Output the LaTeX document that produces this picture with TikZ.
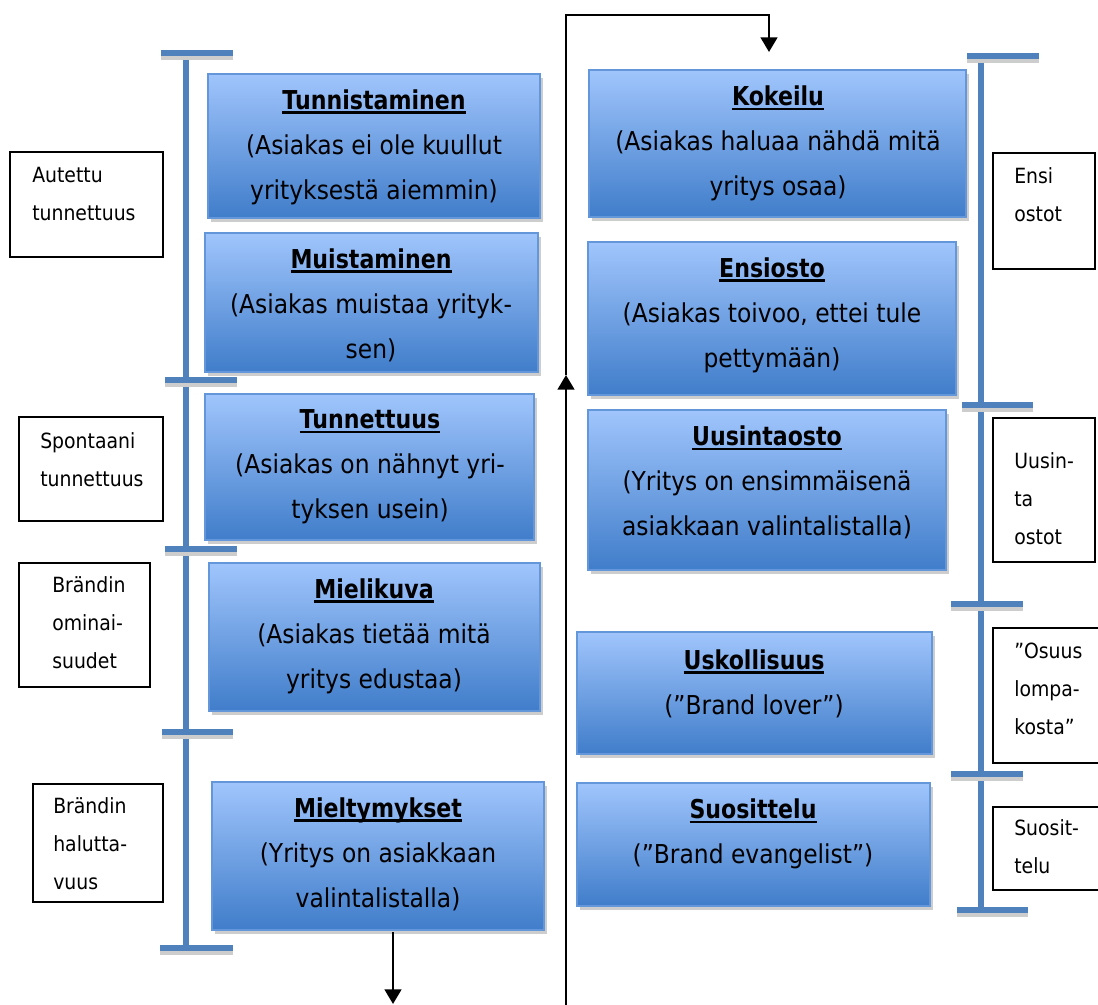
\documentclass[tikz,border=0pt]{standalone}
\usepackage{fontspec}
\setmainfont{DejaVu Sans}
\newfontfamily\stagefont{DejaVu Sans}[FakeStretch=0.9, BoldFeatures={FakeStretch=0.85}]
\newfontfamily\labelfont{DejaVu Sans}[FakeStretch=0.9]
\usetikzlibrary{arrows.meta,shadows,calc}

\definecolor{barblue}{RGB}{79,129,189}
\definecolor{boxtop}{RGB}{160,197,252}
\definecolor{boxbot}{RGB}{64,125,202}
\definecolor{boxedge}{RGB}{100,150,218}
\definecolor{shadowgray}{RGB}{205,205,205}

\tikzset{
  bluebox/.style={draw=boxedge, line width=0.9pt, top color=boxtop, bottom color=boxbot,
    drop shadow={shadow xshift=2.2pt, shadow yshift=-3pt, fill=shadowgray, opacity=1}},
  boxtext/.style={align=center, font=\stagefont\fontsize{19.5}{33.8}\selectfont, inner sep=0pt},
  sidebox/.style={draw=black, line width=1.3pt, fill=white},
  sidetext/.style={align=left, anchor=west, font=\labelfont\fontsize{15.7}{28.5}\selectfont, inner sep=0pt},
  scalebar/.style={draw=barblue, line width=4.6pt},
  tickshadow/.style={draw=shadowgray, line width=4.6pt},
  flowline/.style={draw=black, line width=1.9pt},
  flowarrow/.style={-{Triangle[length=11pt,width=12.5pt]}}
}

% underlined bold heading with a fixed rule position
\newcommand\ttl[1]{\setbox0=\hbox{\bfseries #1}\rlap{\rule[-3.4pt]{\wd0}{1.7pt}}\box0}

% stage box: name, x1, y1, x2, y2, text x, text y, text
\newcommand\stagebox[8]{%
  \node[bluebox, minimum width={(#4-#2)*0.75pt}, minimum height={(#5-#3)*0.75pt}]
    (#1) at ({(#2+#4)/2},{(#3+#5)/2}) {};
  \node[boxtext] (#1-text) at (#6,#7) {#8};}

% side label box: name, x1, y1, x2, y2, text x, text y, text
\newcommand\sidelabel[8]{%
  \node[sidebox, minimum width={(#4-#2)*0.75pt}, minimum height={(#5-#3)*0.75pt}]
    (#1) at ({(#2+#4)/2},{(#3+#5)/2}) {};
  \node[sidetext] (#1-text) at (#6,#7) {#8};}

% scale tick: name, x1, x2, y
\newcommand\scaletick[4]{%
  \coordinate (#1-a) at (#2,#4);
  \coordinate (#1-b) at (#3,#4);
  \draw[tickshadow] ($(#1-a)+(0,4)$) -- ($(#1-b)+(0,4)$);
  \draw[scalebar] (#1-a) -- (#1-b);}

\begin{document}
\begin{tikzpicture}[x=0.75pt, y=-0.75pt]
\useasboundingbox (0,0) rectangle (1098,1005);

% left scale
\coordinate (lbar-top) at (186,53);
\coordinate (lbar-bot) at (186,948);
\draw[scalebar] (lbar-top) -- (lbar-bot);
\scaletick{lt1}{161}{233}{53}
\scaletick{lt2}{165}{237}{380}
\scaletick{lt3}{165}{237}{549}
\scaletick{lt4}{162}{233}{732}
\scaletick{lt5}{160}{233}{948}

% right scale
\coordinate (rbar-top) at (981,56);
\coordinate (rbar-bot) at (981,910);
\draw[scalebar] (rbar-top) -- (rbar-bot);
\scaletick{rt1}{967}{1039}{56}
\scaletick{rt2}{962}{1033}{405}
\scaletick{rt3}{951}{1023}{604}
\scaletick{rt4}{951}{1023}{774}
\scaletick{rt5}{957}{1028}{910}

% stages, left column
\stagebox{s1}{208}{74}{540}{218}{374}{147}{\ttl{Tunnistaminen}\\(Asiakas ei ole kuullut\\yrityksestä aiemmin)}
\stagebox{s2}{205}{233}{538}{372}{371}{305}{\ttl{Muistaminen}\\(Asiakas muistaa yrityk-\\sen)}
\stagebox{s3}{205}{394}{534}{540}{370}{467}{\ttl{Tunnettuus}\\(Asiakas on nähnyt yri-\\tyksen usein)}
\stagebox{s4}{209}{563}{540}{711}{374}{636}{\ttl{Mielikuva}\\(Asiakas tietää mitä\\yritys edustaa)}
\stagebox{s5}{212}{782}{544}{930}{378}{854}{\ttl{Mieltymykset}\\(Yritys on asiakkaan\\valintalistalla)}

% stages, right column
\stagebox{s6}{589}{70}{966}{217}{778}{143.5}{\ttl{Kokeilu}\\(Asiakas haluaa nähdä mitä\\yritys osaa)}
\stagebox{s7}{588}{242}{956}{395}{772}{315}{\ttl{Ensiosto}\\(Asiakas toivoo, ettei tule\\pettymään)}
\stagebox{s8}{588}{410}{946}{570}{767}{482.5}{\ttl{Uusintaosto}\\(Yritys on ensimmäisenä\\asiakkaan valintalistalla)}
\stagebox{s9}{577}{632}{932}{754}{754}{683.5}{\ttl{Uskollisuus}\\(”Brand lover”)}
\stagebox{s10}{577}{783}{930}{906}{753}{834}{\ttl{Suosittelu}\\(”Brand evangelist”)}

% side labels, left
\sidelabel{a1}{10}{152}{163}{257}{32}{194}{Autettu\\tunnettuus}
\sidelabel{a2}{19}{417}{163}{521}{40}{459.5}{Spontaani\\tunnettuus}
\sidelabel{a3}{19}{563}{150}{687}{52}{622.5}{Brändin\\ominai-\\suudet}
\sidelabel{a4}{33}{784}{163}{902}{53}{844}{Brändin\\halutta-\\vuus}

% side labels, right
\sidelabel{b1}{993}{153}{1095}{269}{1014}{194.5}{Ensi\\ostot}
\sidelabel{b2}{993}{418}{1095}{562}{1014}{499}{Uusin-\\ta\\ostot}
\sidelabel{b3}{993}{628}{1102}{763}{1014}{689}{”Osuus\\lompa-\\kosta”}
\sidelabel{b4}{993}{807}{1102}{890}{1014}{847}{Suosit-\\telu}

% flow connectors
\coordinate (down-start) at (393,932);
\coordinate (down-end) at (393,1004);
\draw[flowline, flowarrow] (down-start) -- (down-end);

\coordinate (loop-bot) at (566,1006);
\coordinate (loop-mid) at (566,375);
\coordinate (loop-top) at (566,15);
\coordinate (loop-end) at (769,52);
\draw[flowline, flowarrow] (loop-bot) -- (loop-mid);
\draw[flowline, flowarrow] (loop-mid) -- (loop-top) -| (loop-end);
\end{tikzpicture}
\end{document}
